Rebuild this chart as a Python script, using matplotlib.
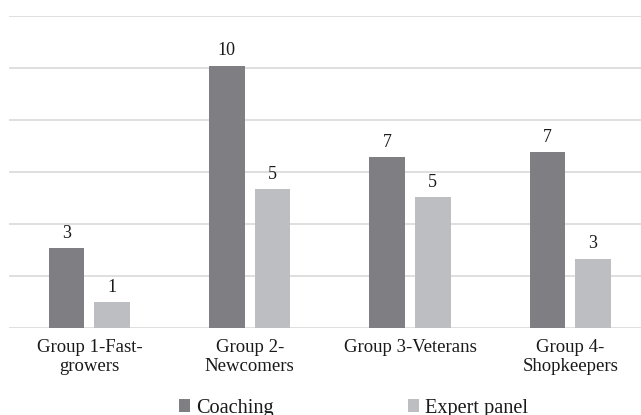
import matplotlib
matplotlib.use("Agg")
import matplotlib.pyplot as plt
from matplotlib.patches import Patch
import numpy as np

plt.rcParams['font.family'] = ['Liberation Serif', 'DejaVu Serif']

categories = ["Group 1-Fast-\ngrowers", "Group 2-\nNewcomers", "Group 3-Veterans", "Group 4-\nShopkeepers"]
series_names = ["Coaching", "Expert panel"]
coaching_heights = [7.66, 25.2, 16.4, 16.9]
expert_heights = [2.47, 13.3, 12.55, 6.63]
coaching_labels = [3, 10, 7, 7]
expert_labels = [1, 5, 5, 3]

c_dark = "#7f7f83"
c_light = "#bdbec1"
grid_c = "#d9d9d9"
txt_c = "#1a1a1a"
fs = 13.5

fig = plt.figure(figsize=(6.41, 4.15), dpi=100)
ax = fig.add_axes([0.01435, 0.2108, 1.0004, 0.7514])

x = np.arange(len(categories))
w = 0.222
off = 0.142
b1 = ax.bar(x - off, coaching_heights, w, color=c_dark, zorder=3)
b2 = ax.bar(x + off, expert_heights, w, color=c_light, zorder=3)

for bars, labs in ((b1, coaching_labels), (b2, expert_labels)):
    for r, lab in zip(bars, labs):
        ax.annotate(str(lab), (r.get_x() + r.get_width() / 2, r.get_height()),
                    xytext=(0, 7.4), textcoords="offset points",
                    ha="center", va="baseline", fontsize=13, color=txt_c)

ax.set_xlim(-0.5, 3.5)
ax.set_ylim(0, 30)
ax.set_yticks(np.arange(0, 31, 5))
ax.yaxis.grid(True, color=grid_c, linewidth=1.2, zorder=0)
ax.set_yticklabels([])
ax.tick_params(axis='y', length=0)
ax.set_xticks(x)
ax.set_xticklabels(categories, fontsize=fs, color=txt_c, linespacing=1.22)
ax.tick_params(axis='x', length=0, pad=8)
for s in ax.spines.values():
    s.set_visible(False)

handles = [Patch(facecolor=c_dark, edgecolor='none'), Patch(facecolor=c_light, edgecolor='none')]
fig.legend(handles, series_names, loc="center", bbox_to_anchor=(353.5 / 641, 1 - 408 / 415),
           ncol=2, frameon=False, fontsize=14.6, handlelength=0.56, handleheight=0.56,
           handletextpad=0.3, columnspacing=6.6, labelcolor=txt_c, borderpad=0)

fig.savefig("out.png", dpi=100)
